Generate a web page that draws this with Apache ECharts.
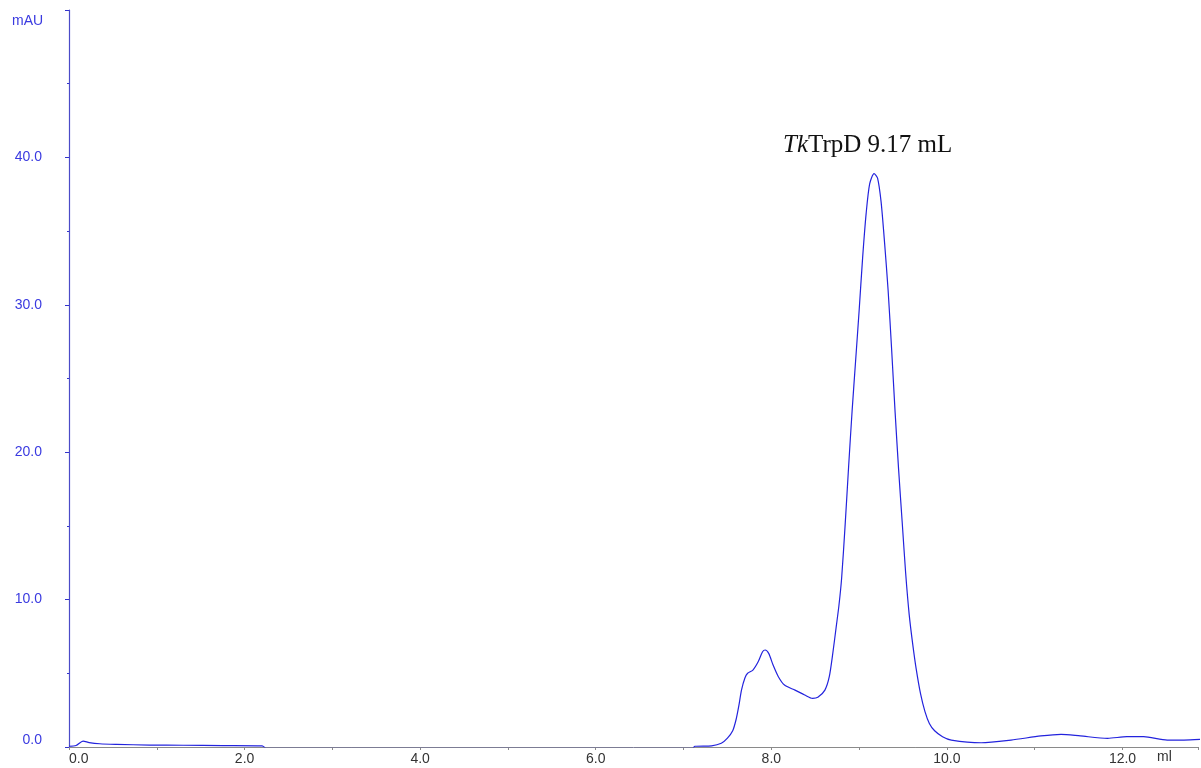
<!DOCTYPE html>
<html>
<head>
<meta charset="utf-8">
<script src="https://cdn.jsdelivr.net/npm/echarts@6/dist/echarts.min.js"></script>
<style>
html,body{margin:0;padding:0;background:#fff;}
#chart{width:1201px;height:768px;}
</style>
</head>
<body>
<div id="chart"></div>
<script>
// Elution volume (ml) and UV absorbance (mAU)
const volume = [0.00,0.08,0.16,0.23,0.35,0.54,0.92,1.30,1.75,2.20,2.25,6.20,7.10,7.13,7.32,7.43,7.50,7.56,7.60,7.63,7.66,7.70,7.73,7.79,7.85,7.90,7.93,7.97,8.02,8.08,8.15,8.27,8.38,8.47,8.53,8.61,8.66,8.70,8.74,8.77,8.80,8.84,8.88,8.92,8.96,9.00,9.04,9.08,9.12,9.17,9.21,9.25,9.29,9.33,9.37,9.41,9.45,9.49,9.53,9.57,9.61,9.65,9.70,9.75,9.80,9.86,9.95,10.05,10.39,10.73,11.07,11.30,11.52,11.83,12.05,12.24,12.51,12.70,12.90];
const absorbance = [0.05,0.10,0.40,0.30,0.22,0.18,0.13,0.12,0.10,0.08,-0.10,-0.10,-0.10,0.05,0.08,0.25,0.60,1.10,1.90,2.80,3.86,4.70,5.00,5.22,5.78,6.46,6.58,6.35,5.56,4.77,4.20,3.86,3.53,3.30,3.37,3.86,4.77,6.35,8.20,9.60,11.4,15.0,19.0,22.8,26.2,29.6,33.2,36.2,38.2,38.9,38.6,37.0,34.2,31.0,27.0,22.7,18.8,15.3,11.8,9.0,7.0,5.3,3.6,2.4,1.6,1.1,0.70,0.47,0.29,0.47,0.75,0.86,0.75,0.59,0.70,0.70,0.47,0.47,0.52];
const xTickLabels = ['0.0','2.0','4.0','6.0','8.0','10.0','12.0'];
const yTickLabels = ['0.0','10.0','20.0','30.0','40.0'];
const yUnit = 'mAU';
const xUnit = 'ml';
const peakLabelItalic = 'Tk';
const peakLabelRest = 'TrpD 9.17 mL';

const seriesData = volume.map((v, i) => [v, absorbance[i]]);

const chart = echarts.init(document.getElementById('chart'), null, {renderer: 'canvas'});
chart.setOption({
  backgroundColor: '#ffffff',
  animation: false,
  grid: {left: 69, right: 0, top: 10, bottom: 21, containLabel: false},
  xAxis: {
    type: 'value',
    min: 0, max: 12.86, interval: 2,
    axisLine: {show: true, lineStyle: {color: '#8a8a8a', width: 1}},
    axisTick: {show: true, length: 3, lineStyle: {color: '#8a8a8a'}},
    minorTick: {show: true, splitNumber: 2, length: 3, lineStyle: {color: '#8a8a8a'}},
    splitLine: {show: false},
    axisLabel: {
      color: '#333333', fontFamily: 'Liberation Sans, Arial, sans-serif', fontSize: 14, margin: 5,
      alignMinLabel: 'left',
      formatter: v => {
        const s = v.toFixed(1);
        return xTickLabels.indexOf(s) >= 0 && Math.abs(v - parseFloat(s)) < 1e-6 ? s : '';
      }
    }
  },
  yAxis: {
    type: 'value',
    min: 0, max: 50, interval: 10,
    axisLine: {show: true, lineStyle: {color: '#4b4bc8', width: 1.2}},
    axisTick: {show: true, length: 4, lineStyle: {color: '#3333cc'}},
    minorTick: {show: true, splitNumber: 2, length: 2, lineStyle: {color: '#3333cc'}},
    splitLine: {show: false},
    axisLabel: {
      color: '#3a3ae0', fontFamily: 'Liberation Sans, Arial, sans-serif', fontSize: 14, margin: 27,
      verticalAlignMinLabel: 'bottom',
      formatter: v => {
        const s = v.toFixed(1);
        return yTickLabels.indexOf(s) >= 0 ? s : '';
      }
    }
  },
  graphic: [
    {type: 'text', left: 12, top: 14, style: {text: yUnit, fill: '#3a3ae0', font: '14px "Liberation Sans", Arial, sans-serif'}},
    {type: 'text', left: 1157, top: 750, style: {text: xUnit, fill: '#333333', font: '14px "Liberation Sans", Arial, sans-serif'}},
    {type: 'text', left: 783, top: 133, style: {
      text: '{i|' + peakLabelItalic + '}' + peakLabelRest,
      fill: '#111111',
      font: '25px "Liberation Serif", "Times New Roman", serif',
      rich: {i: {fontStyle: 'italic', fontFamily: '"Liberation Serif", "Times New Roman", serif', fontSize: 25, fill: '#111111'}}
    }}
  ],
  series: [{
    type: 'line',
    data: seriesData,
    showSymbol: false,
    smooth: 0.25,
    clip: true,
    lineStyle: {color: '#2323dd', width: 1.2},
    z: 3
  }]
});
</script>
</body>
</html>
